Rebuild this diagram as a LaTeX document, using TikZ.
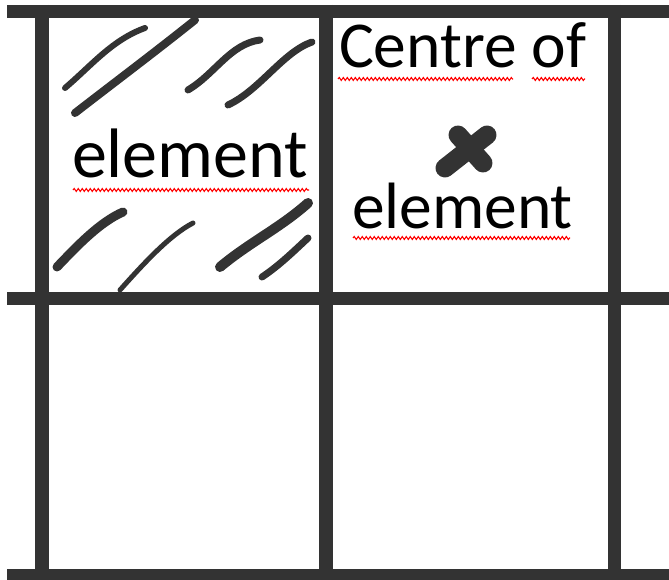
\documentclass[tikz,border=0pt]{standalone}
\usepackage{fontspec}
\setmainfont{Carlito}
\usetikzlibrary{decorations.pathmorphing}
\definecolor{gridgray}{HTML}{333333}
\begin{document}
\begin{tikzpicture}[x=1pt,y=-1pt,
  gridline/.style={draw=gridgray,line width=13.5pt},
  hatch/.style={draw=gridgray,line cap=round,line width=#1},
  hatch/.default=7pt,
  squiggle/.style={draw=red,line width=1.1pt,decorate,decoration={snake,segment length=4pt,amplitude=1.5pt}},
  lbl/.style={anchor=base west,inner sep=0pt,outer sep=0pt,text=black}]
\useasboundingbox (0,0) rectangle (669,580);
\begin{scope}
\clip (0,0) rectangle (669,580);
% hatch strokes
\draw[hatch=6pt] (65,88) .. controls (92,65) and (112,40) .. (145,28);
\draw[hatch=8pt] (75,113) .. controls (115,82) and (155,52) .. (195,20);
\draw[hatch=7pt] (188,90) .. controls (215,74) and (230,44) .. (260,40);
\draw[hatch=7pt] (228,105) .. controls (260,90) and (283,52) .. (312,42);
\draw[hatch=9pt] (57,267) .. controls (78,245) and (100,222) .. (123,212);
\draw[hatch=5pt] (120,290) .. controls (145,262) and (170,235) .. (193,223);
\draw[hatch=10pt] (220,267) .. controls (250,242) and (280,228) .. (308,203);
\draw[hatch=7pt] (262,277) .. controls (280,265) and (295,250) .. (308,238);
% grid
\draw[gridline] (42,5) -- (42,580);
\draw[gridline] (326,5) -- (326,580);
\draw[gridline] (614.5,5) -- (614.5,580);
\draw[gridline] (7,11.5) -- (669,11.5);
\draw[gridline] (7,298.5) -- (669,298.5);
\draw[gridline] (7,575.5) -- (669,575.5);
% cross
\draw[gridgray,line width=19pt,line cap=round] (445,168) -- (487,135);
\draw[gridgray,line width=19pt,line cap=round] (458,135) -- (483,163);
\end{scope}
% texts
\node[lbl,font=\fontsize{70}{84}\selectfont] (elemL) at (72,178) {element};
\node[lbl,font=\fontsize{65.5}{78}\selectfont] (centre) at (339,68) {Centre of};
\node[lbl,font=\fontsize{65.5}{78}\selectfont] (elemR) at (352,228) {element};
% spell-check squiggles
\draw[squiggle] (73,190) -- (309,190);
\draw[squiggle] (338,79) -- (513,79);
\draw[squiggle] (532,79) -- (585,79);
\draw[squiggle] (353,238) -- (570,238);
\end{tikzpicture}
\end{document}
